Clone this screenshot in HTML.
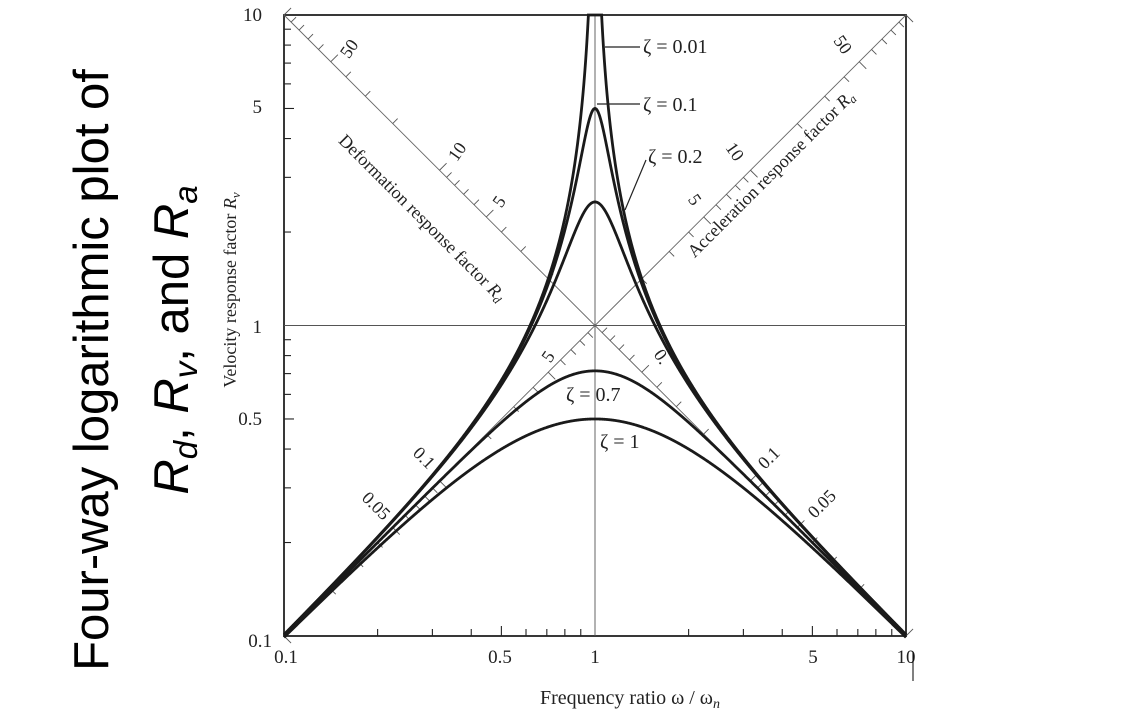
<!DOCTYPE html>
<html><head><meta charset="utf-8"><style>
body{margin:0;background:#fff;width:1142px;height:727px;overflow:hidden}
svg{display:block}
.t{font-family:"Liberation Serif",serif;fill:#222}
.h{font-family:"Liberation Sans",sans-serif;font-size:49px;fill:#000}
</style></head><body>
<svg id="s" width="1142" height="727" xmlns="http://www.w3.org/2000/svg">
<text class="h" transform="translate(108,370) rotate(-90)" text-anchor="middle">Four-way logarithmic plot of</text>
<text class="h" transform="translate(188,340) rotate(-90)" text-anchor="middle"><tspan font-style="italic">R</tspan><tspan font-style="italic" font-size="33" dy="9">d</tspan><tspan dy="-9">, </tspan><tspan font-style="italic">R</tspan><tspan font-style="italic" font-size="33" dy="9">v</tspan><tspan dy="-9">, and </tspan><tspan font-style="italic">R</tspan><tspan font-style="italic" font-size="33" dy="9">a</tspan></text>
<g id="g"></g>
<line x1="913" y1="652" x2="913" y2="681" stroke="#000" stroke-width="1"/>
<text class="t" x="630" y="704" font-size="20" text-anchor="middle">Frequency ratio ω / ω<tspan font-style="italic" font-size="14" dy="4">n</tspan></text>
<text class="t" transform="translate(236,290) rotate(-90)" font-size="18" text-anchor="middle">Velocity response factor <tspan font-style="italic">R<tspan font-size="13" dy="4">v</tspan></tspan></text>
</svg>
<script>
var L=284,R=906,T=15,B=636,D=(R-L)/2;
function X(r){return L+(Math.log10(r)+1)*D}
function Y(v){return B-(Math.log10(v)+1)*(B-T)/2}
var h='';
function ln(a,b,c,d,w,col){h+='<line x1="'+a+'" y1="'+b+'" x2="'+c+'" y2="'+d+'" stroke="'+(col||'#222')+'" stroke-width="'+w+'"/>';}
function tx(x,y,s,sz,rot,anc){h+='<text class="t" font-size="'+sz+'" text-anchor="'+(anc||'middle')+'" transform="translate('+x+','+y+') rotate('+(rot||0)+')">'+s+'</text>';}
h+='<rect x="'+L+'" y="'+T+'" width="'+(R-L)+'" height="'+(B-T)+'" fill="none" stroke="#222" stroke-width="1.8"/>';
ln(X(1),T,X(1),B,0.9,'#555');ln(L,Y(1),R,Y(1),0.9,'#555');
ln(L,T,R,B,0.9,'#666');ln(L,B,R,T,0.9,'#666');
[0.1,1].forEach(function(d){for(var k=2;k<10;k++){var v=d*k,len=(k==5)?10:7;
 ln(X(v),B,X(v),B-len,1.1);ln(L,Y(v),L+len,Y(v),1.1);}});
var tv=[];[0.01,0.1,1,10].forEach(function(d){for(var k=1;k<10;k++)tv.push(d*k)});tv.push(100);
tv.forEach(function(q){var s=Math.log10(q)/2; if(Math.abs(s)>1||Math.abs(s)<1e-6)return;var m=Math.round(q/Math.pow(10,Math.floor(Math.log10(q)+1e-9)));var len=(m==1||m==5)?10:7;
 var x=X(Math.pow(10,-s)),y=Y(Math.pow(10,s));ln(x,y,x+len*0.707,y-len*0.707,0.9,'#555');
 x=X(Math.pow(10,s));y=Y(Math.pow(10,s));ln(x,y,x+len*0.707,y+len*0.707,0.9,'#555');});
function path(z){var p='';for(var i=0;i<=1600;i++){var lr=-1+2*i/1600,r=Math.pow(10,lr);
 var rv=r/Math.sqrt(Math.pow(1-r*r,2)+Math.pow(2*z*r,2));var y=Math.max(Y(rv),T);p+=(i?'L':'M')+X(r).toFixed(2)+','+y.toFixed(2);}
 h+='<path d="'+p+'" fill="none" stroke="#1a1a1a" stroke-width="2.8"/>';}
[0.01,0.1,0.2,0.7,1].forEach(path);
tx(262,21,'10',19,0,'end');tx(262,113,'5',19,0,'end');tx(262,333,'1',19,0,'end');tx(262,425,'0.5',19,0,'end');tx(272,647,'0.1',19,0,'end');
tx(286,663,'0.1',19);tx(500,663,'0.5',19);tx(595,663,'1',19);tx(813,663,'5',19);tx(906,663,'10',19);
tx(354,52,'50',18,-55);tx(462,155,'10',18,-55);tx(504,205,'5',18,-55);tx(553,360,'5',18,-55);
tx(420,462,'0.1',18,45);tx(372,510,'0.05',18,45);
tx(838,48,'50',18,55);tx(730,155,'10',18,55);tx(690,203,'5',18,55);tx(657,360,'0.',18,55);
tx(773,462,'0.1',18,-45);tx(826,508,'0.05',18,-45);
tx(418,222,'Deformation response factor <tspan font-style="italic">R<tspan font-size="12" dy="3">d</tspan></tspan>',18,45);
tx(775,178,'Acceleration response factor <tspan font-style="italic">R<tspan font-size="12" dy="3">a</tspan></tspan>',18,-45);
function zl(x,y,s){tx(x,y,'ζ = '+s,20,0,'start');}
ln(605,47,640,47,1.2);zl(643,53,'0.01');
ln(597,104,640,104,1.2);zl(643,111,'0.1');
ln(625,210,646,160,1.2);zl(648,163,'0.2');
zl(566,401,'0.7');zl(600,448,'1');
document.getElementById('g').innerHTML=h;
</script>
</body></html>
